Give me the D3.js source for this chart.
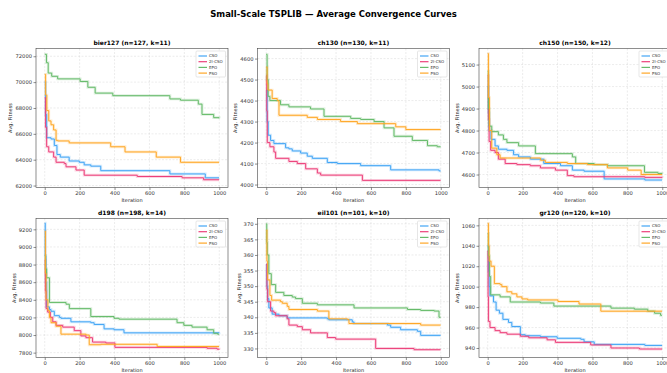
<!doctype html>
<html>
<head>
  <script src="https://cdnjs.cloudflare.com/ajax/libs/d3/7.8.5/d3.min.js"></script>
  <style>
    body { margin: 0; background: #fff; }
    svg { font-family: "DejaVu Sans", sans-serif; }
  </style>
</head>
<body>
  <svg id="chart" width="667" height="373"></svg>
  <script>
    // series order as in the legends
    var algos = ["CSO", "2I-CSO", "EPO", "PSO"];
    var colors = ["#42a5f5", "#ec407a", "#66bb6a", "#ffa726"];

    var titles = ["bier127 (n=127, k=11)", "ch130 (n=130, k=11)", "ch150 (n=150, k=12)",
                  "d198 (n=198, k=14)", "eil101 (n=101, k=10)", "gr120 (n=120, k=10)"];
    var xTicks = [0, 200, 400, 600, 800, 1000];
    var yTicks = [
      [62000, 64000, 66000, 68000, 70000, 72000],
      [4000, 4100, 4200, 4300, 4400, 4500, 4600],
      [4600, 4700, 4800, 4900, 5000, 5100],
      [7800, 8000, 8200, 8400, 8600, 8800, 9000, 9200],
      [330, 335, 340, 345, 350, 355, 360, 365, 370],
      [940, 960, 980, 1000, 1020, 1040, 1060]
    ];
    var yDomains = [[61850, 72600], [3986, 4648], [4541, 5173], [7745, 9323], [327.1, 371.7], [930.7, 1066.7]];

    // [iteration, avg fitness] breakpoints (step after)
    var bier127CSO = [[0, 70000], [5, 67500], [11, 65700], [36, 65600], [55, 65100], [70, 64400], [89, 64200], [140, 63900], [198, 63800], [226, 63600], [264, 63500], [321, 63150], [717, 62900], [920, 62600], [999, 62600]];
    var bier127ICSO = [[0, 68800], [5, 66500], [11, 65000], [23, 64600], [51, 64200], [65, 63800], [112, 63700], [122, 63450], [179, 63200], [226, 62800], [530, 62700], [787, 62600], [910, 62450], [999, 62450]];
    var bier127EPO = [[0, 72150], [10, 71500], [20, 70700], [40, 70450], [74, 70250], [203, 70050], [247, 69600], [289, 69150], [390, 68950], [717, 68700], [778, 68600], [880, 68300], [901, 67500], [968, 67250], [999, 67200]];
    var bier127PSO = [[0, 70600], [5, 69000], [12, 67800], [23, 67000], [36, 66700], [51, 66300], [65, 65500], [74, 65450], [140, 65300], [378, 65000], [460, 64600], [639, 64200], [778, 63800], [999, 63800]];

    var ch130CSO = [[0, 4450], [5, 4300], [11, 4235], [25, 4210], [44, 4195], [111, 4175], [130, 4170], [149, 4160], [197, 4150], [235, 4135], [264, 4125], [350, 4105], [407, 4100], [541, 4090], [713, 4070], [990, 4065], [999, 4065]];
    var ch130ICSO = [[0, 4520], [3, 4350], [6, 4200], [21, 4180], [44, 4155], [54, 4125], [130, 4110], [178, 4100], [226, 4075], [293, 4055], [312, 4045], [551, 4020], [999, 4020]];
    var ch130EPO = [[0, 4620], [5, 4500], [11, 4420], [21, 4400], [82, 4380], [130, 4370], [254, 4360], [331, 4325], [484, 4315], [541, 4310], [618, 4300], [675, 4270], [732, 4230], [837, 4210], [924, 4185], [980, 4180], [999, 4180]];
    var ch130PSO = [[0, 4560], [5, 4480], [10, 4450], [34, 4410], [63, 4400], [73, 4330], [235, 4320], [293, 4310], [426, 4300], [522, 4290], [742, 4275], [800, 4262], [999, 4262]];

    var ch150CSO = [[0, 5000], [4, 4880], [8, 4800], [19, 4760], [42, 4730], [61, 4715], [110, 4710], [148, 4690], [177, 4680], [244, 4670], [321, 4650], [417, 4640], [485, 4620], [552, 4615], [667, 4580], [900, 4575], [999, 4575]];
    var ch150ICSO = [[0, 5050], [4, 4850], [8, 4750], [17, 4710], [42, 4700], [61, 4670], [100, 4650], [167, 4645], [244, 4640], [302, 4630], [388, 4620], [456, 4595], [494, 4590], [900, 4587], [999, 4585]];
    var ch150EPO = [[0, 5070], [4, 4900], [8, 4820], [23, 4795], [61, 4780], [90, 4760], [110, 4745], [177, 4730], [273, 4695], [485, 4680], [504, 4650], [610, 4645], [686, 4640], [898, 4610], [975, 4605], [999, 4603]];
    var ch150PSO = [[0, 5150], [4, 4950], [10, 4800], [23, 4720], [52, 4690], [71, 4675], [302, 4665], [330, 4655], [456, 4650], [571, 4645], [686, 4630], [802, 4620], [879, 4600], [999, 4600]];

    var d198CSO = [[0, 9270], [3, 8900], [6, 8600], [11, 8320], [27, 8290], [36, 8270], [55, 8220], [84, 8200], [93, 8190], [150, 8150], [264, 8140], [283, 8120], [340, 8070], [397, 8060], [454, 8025], [999, 8030]];
    var d198ICSO = [[0, 8850], [4, 8500], [8, 8300], [17, 8260], [32, 8200], [46, 8150], [65, 8110], [103, 8090], [169, 8050], [207, 7990], [236, 7970], [274, 7920], [350, 7910], [402, 7860], [930, 7850], [987, 7840], [999, 7835]];
    var d198EPO = [[0, 8900], [5, 8750], [11, 8650], [27, 8370], [122, 8350], [141, 8300], [264, 8210], [397, 8190], [426, 8180], [740, 8180], [758, 8140], [797, 8110], [844, 8090], [930, 8060], [968, 8020], [990, 8010], [999, 8010]];
    var d198PSO = [[0, 9180], [4, 8700], [8, 8400], [18, 8280], [27, 8200], [36, 8140], [65, 8100], [93, 8010], [236, 8000], [255, 7890], [321, 7895], [644, 7870], [999, 7870]];

    var eil101CSO = [[0, 357], [4, 350], [8, 346], [15, 343], [34, 341], [73, 340.5], [120, 339.8], [350, 339.5], [359, 339.2], [493, 338.5], [503, 338], [694, 337.5], [713, 336.8], [770, 336], [866, 335.5], [885, 334.2], [999, 334.2]];
    var eil101ICSO = [[0, 357], [4, 349], [8, 345], [25, 342], [44, 341.5], [54, 340.5], [120, 339.5], [130, 337.5], [178, 337], [207, 336], [254, 335], [350, 333.5], [398, 333], [627, 330], [847, 329.6], [999, 329.6]];
    var eil101EPO = [[0, 370], [3, 364], [6, 360], [15, 354], [29, 350.5], [54, 348], [101, 347], [149, 346.5], [168, 346], [207, 344.5], [293, 344], [503, 343], [809, 342.5], [885, 342.2], [962, 342], [990, 340], [999, 340]];
    var eil101PSO = [[0, 368], [4, 358], [8, 352], [21, 347], [31, 345.5], [82, 345], [92, 344.5], [120, 343.5], [130, 342.5], [293, 342], [359, 339.5], [465, 339.3], [474, 338], [598, 338], [885, 337.5], [999, 337.5]];

    var gr120CSO = [[0, 1040], [4, 1015], [8, 1000], [13, 991], [33, 985], [48, 977], [67, 974], [87, 968], [119, 965], [138, 961], [187, 953], [215, 952], [302, 951], [398, 949.5], [533, 948.5], [552, 946], [610, 943.5], [900, 942.5], [999, 942.5]];
    var gr120ICSO = [[0, 1035], [2, 990], [4, 966], [13, 960], [42, 957], [71, 955], [110, 953.5], [187, 951.5], [235, 950], [340, 948], [388, 945.5], [590, 943], [706, 940], [869, 939], [999, 939]];
    var gr120EPO = [[0, 1052], [4, 1030], [10, 1010], [17, 992], [71, 990], [129, 985], [302, 984], [379, 981], [706, 979], [840, 978], [917, 976], [956, 974], [990, 972], [999, 972]];
    var gr120PSO = [[0, 1062], [4, 1040], [8, 1025], [19, 1020], [38, 1003], [71, 1002], [81, 1000], [110, 995], [138, 993], [167, 990], [196, 988], [229, 987], [402, 985.5], [523, 983], [648, 976], [999, 976]];

    var panelSeries = [
      [bier127CSO, bier127ICSO, bier127EPO, bier127PSO],
      [ch130CSO, ch130ICSO, ch130EPO, ch130PSO],
      [ch150CSO, ch150ICSO, ch150EPO, ch150PSO],
      [d198CSO, d198ICSO, d198EPO, d198PSO],
      [eil101CSO, eil101ICSO, eil101EPO, eil101PSO],
      [gr120CSO, gr120ICSO, gr120EPO, gr120PSO]
    ];

    var svg = d3.select("#chart");
    var colLeft = [36, 257.5, 479], rowTop = [48.5, 218.5];
    var pw = 192, ph = 139;

    svg.append("text")
      .attr("x", 333.5).attr("y", 17)
      .attr("text-anchor", "middle")
      .style("font-size", "8.5px").style("font-weight", "bold")
      .text("Small-Scale TSPLIB \u2014 Average Convergence Curves");

    titles.forEach(function(title, p) {
      var left = colLeft[p % 3], top = rowTop[Math.floor(p / 3)];
      var g = svg.append("g").attr("transform", `translate(${left},${top})`);
      var x = d3.scaleLinear().domain([-50, 1050]).range([0, pw]);
      var y = d3.scaleLinear().domain(yDomains[p]).range([ph, 0]);

      // grid
      g.append("g").selectAll("line").data(xTicks).enter().append("line")
        .attr("x1", d => x(d)).attr("x2", d => x(d)).attr("y1", 0).attr("y2", ph)
        .attr("stroke", "#d0d0d0").attr("stroke-width", 0.4).attr("stroke-dasharray", "2,1.5");
      g.append("g").selectAll("line").data(yTicks[p]).enter().append("line")
        .attr("y1", d => y(d)).attr("y2", d => y(d)).attr("x1", 0).attr("x2", pw)
        .attr("stroke", "#d0d0d0").attr("stroke-width", 0.4).attr("stroke-dasharray", "2,1.5");

      var line = d3.line().x(d => x(d[0])).y(d => y(d[1])).curve(d3.curveStepAfter);
      panelSeries[p].forEach(function(s, i) {
        g.append("path").datum(s).attr("d", line)
          .attr("fill", "none").attr("stroke", colors[i])
          .attr("stroke-width", 2.8).attr("stroke-opacity", 0.22);
      });
      panelSeries[p].forEach(function(s, i) {
        g.append("path").datum(s).attr("d", line)
          .attr("fill", "none").attr("stroke", colors[i])
          .attr("stroke-width", 1);
      });

      // axes
      var xa = g.append("g").attr("transform", `translate(0,${ph})`)
        .call(d3.axisBottom(x).tickValues(xTicks).tickFormat(d3.format("d")).tickSize(2.5).tickPadding(1.5));
      var ya = g.append("g")
        .call(d3.axisLeft(y).tickValues(yTicks[p]).tickFormat(d3.format("d")).tickSize(2.5).tickPadding(1.5));
      [xa, ya].forEach(function(a) {
        a.select(".domain").remove();
        a.selectAll("line").attr("stroke", "#444").attr("stroke-width", 0.6);
        a.selectAll("text").style("font-size", "5.2px").attr("fill", "#333")
          .style("font-family", "DejaVu Sans, sans-serif");
      });
      g.append("rect").attr("width", pw).attr("height", ph)
        .attr("fill", "none").attr("stroke", "#444").attr("stroke-width", 0.6);

      var tw = d3.max(ya.selectAll("text").nodes(), n => n.getBBox().width);
      g.append("text")
        .attr("transform", `translate(${-tw - 7},${ph / 2}) rotate(-90)`)
        .attr("text-anchor", "middle").style("font-size", "5px").attr("fill", "#222")
        .text("Avg. Fitness");
      g.append("text")
        .attr("x", pw / 2).attr("y", ph + 14)
        .attr("text-anchor", "middle").style("font-size", "5px").attr("fill", "#222")
        .text("Iteration");
      g.append("text")
        .attr("x", pw / 2).attr("y", -4)
        .attr("text-anchor", "middle").style("font-size", "6px").style("font-weight", "bold")
        .text(title);

      // legend
      var lg = g.append("g").attr("transform", `translate(${pw - 32},2.5)`);
      lg.append("rect").attr("width", 29.5).attr("height", 26).attr("rx", 1)
        .attr("fill", "#fff").attr("fill-opacity", 0.85)
        .attr("stroke", "#ccc").attr("stroke-width", 0.5);
      algos.forEach(function(a, i) {
        var yy = 5 + i * 5.7;
        lg.append("line").attr("x1", 2.5).attr("x2", 11).attr("y1", yy).attr("y2", yy)
          .attr("stroke", colors[i]).attr("stroke-width", 1.2);
        lg.append("text").attr("x", 13).attr("y", yy + 1.4)
          .style("font-size", "4px").attr("fill", "#333").text(a);
      });
    });
  </script>
</body>
</html>
